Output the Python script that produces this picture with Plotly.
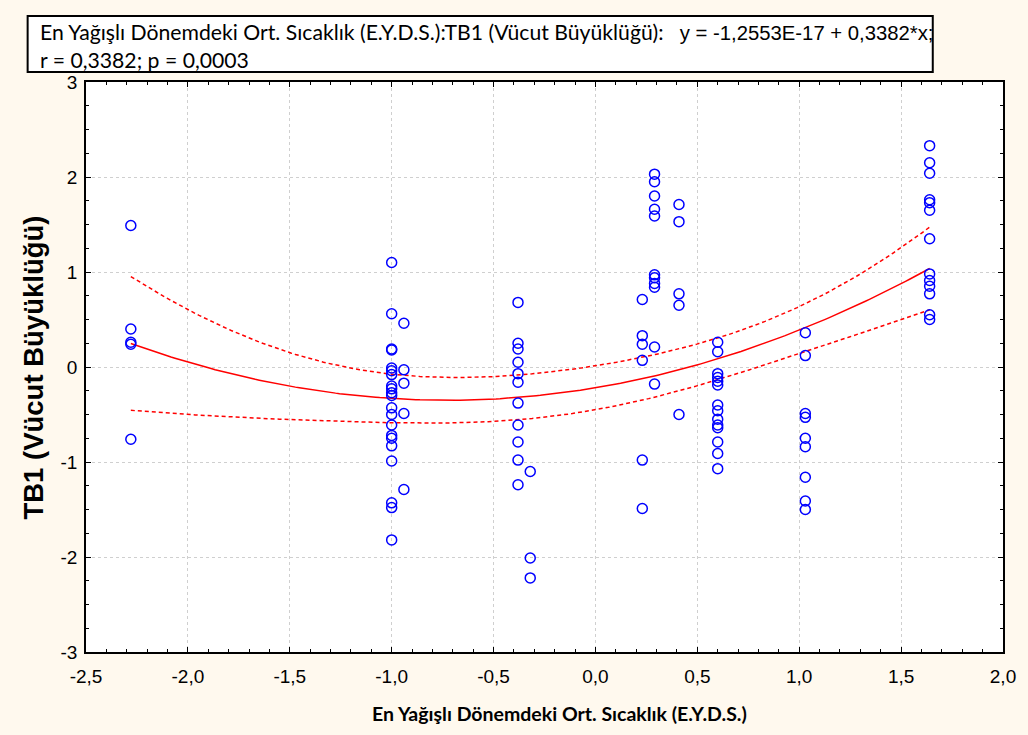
import numpy as np
import plotly.graph_objects as go

# ---- data ----
x_vals = (
    [-2.28] * 5
    + [-1.0] * 21
    + [-0.94] * 5
    + [-0.38] * 11
    + [-0.32] * 3
    + [0.23] * 6
    + [0.29] * 11
    + [0.41] * 5
    + [0.6] * 14
    + [1.03] * 9
    + [1.64] * 13
)
y_vals = (
    [1.49, 0.40, 0.26, 0.24, -0.76]
    + [1.10, 0.56, 0.19, 0.18, -0.01, -0.08, -0.20, -0.23, -0.27, -0.43, -0.50,
       -0.61, -0.72, -0.75, -0.83, -0.99, -1.43, -1.48, -1.82, -0.04, -0.30]
    + [0.46, -0.03, -0.17, -0.49, -1.29]
    + [0.68, 0.25, 0.19, 0.05, -0.07, -0.16, -0.38, -0.61, -0.79, -0.98, -1.24]
    + [-1.10, -2.01, -2.22]
    + [0.71, 0.33, 0.24, 0.07, -0.98, -1.49]
    + [2.03, 1.95, 1.80, 1.66, 1.59, 0.97, 0.94, 0.88, 0.84, 0.21, -0.18]
    + [1.71, 1.53, 0.77, 0.65, -0.50]
    + [0.26, 0.16, -0.07, -0.11, -0.15, -0.19, -0.40, -0.46, -0.55, -0.61, -0.64,
       -0.79, -0.91, -1.07]
    + [0.36, 0.12, -0.49, -0.53, -0.75, -0.84, -1.16, -1.41, -1.50]
    + [2.33, 2.15, 2.04, 1.76, 1.73, 1.65, 1.35, 0.98, 0.91, 0.85, 0.77, 0.55, 0.50]
)

x_tickvals = [-2.5, -2.0, -1.5, -1.0, -0.5, 0.0, 0.5, 1.0, 1.5, 2.0]
x_ticktext = ["-2,5", "-2,0", "-1,5", "-1,0", "-0,5", "0,0", "0,5", "1,0", "1,5", "2,0"]
y_tickvals = [-3, -2, -1, 0, 1, 2, 3]
y_ticktext = ["-3", "-2", "-1", "0", "1", "2", "3"]

title_line1 = "En Yağışlı Dönemdeki Ort. Sıcaklık (E.Y.D.S.):TB1 (Vücut Büyüklüğü):"
title_eq = "y = -1,2553E-17 + 0,3382*x;"
title_line2 = "r = 0,3382; p = 0,0003"
x_title = "En Yağışlı Dönemdeki Ort. Sıcaklık (E.Y.D.S.)"
y_title = "TB1 (Vücut Büyüklüğü)"

# ---- quadratic fit with 95% confidence band ----
xa = np.array(x_vals)
ya = np.array(y_vals)
X = np.column_stack([np.ones_like(xa), xa, xa ** 2])
beta, *_ = np.linalg.lstsq(X, ya, rcond=None)
resid = ya - X @ beta
n = len(xa)
s2 = resid @ resid / (n - 3)
XtX_inv = np.linalg.inv(X.T @ X)
xs = np.linspace(xa.min(), xa.max(), 200)
Xs = np.column_stack([np.ones_like(xs), xs, xs ** 2])
fit = Xs @ beta
se = np.sqrt(s2 * np.einsum("ij,jk,ik->i", Xs, XtX_inv, Xs))
t_crit = 1.984
upper = fit + t_crit * se
lower = fit - t_crit * se

fig = go.Figure()
fig.add_trace(go.Scatter(x=xs, y=upper, mode="lines",
                         line=dict(color="#ff0000", width=1.5, dash="4px,3px"),
                         hoverinfo="skip"))
fig.add_trace(go.Scatter(x=xs, y=lower, mode="lines",
                         line=dict(color="#ff0000", width=1.5, dash="4px,3px"),
                         hoverinfo="skip"))
fig.add_trace(go.Scatter(x=xs, y=fit, mode="lines",
                         line=dict(color="#ff0000", width=1.5),
                         hoverinfo="skip"))
fig.add_trace(go.Scatter(x=x_vals, y=y_vals, mode="markers",
                         marker=dict(symbol="circle-open", size=10,
                                     color="#0000ff", line=dict(width=1.5))))

W, H = 1028, 735
L, R, T, B = 86, 15, 82, 83
pw = W - L - R
ph = H - T - B


def px_x(p):
    return (p - L) / pw


def px_y(p):
    return (H - B - p) / ph


axis_common = dict(
    showline=True, linecolor="black", linewidth=1.5, mirror="ticks",
    ticks="inside", tickcolor="black", ticklen=5, tickwidth=1,
    showgrid=True, gridcolor="#cfcfcf", griddash="dot", gridwidth=1,
    zeroline=False,
    tickfont=dict(family="Liberation Sans, Arial", size=19, color="black"),
)

fig.update_xaxes(range=[-2.5, 2.0], tickvals=x_tickvals, ticktext=x_ticktext,
                 ticklabelstandoff=6,
                 minor=dict(dtick=0.1, ticks="inside", ticklen=3, tickcolor="black",
                            showgrid=False),
                 **axis_common)
fig.update_yaxes(range=[-3, 3], tickvals=y_tickvals, ticktext=y_ticktext,
                 ticklabelstandoff=3,
                 minor=dict(dtick=0.25, ticks="inside", ticklen=3, tickcolor="black",
                            showgrid=False),
                 **axis_common)

# axis titles
fig.add_annotation(xref="paper", yref="paper", x=px_x(565), y=px_y(714),
                   xanchor="center", yanchor="middle", showarrow=False,
                   text="<b>" + x_title + "</b>",
                   font=dict(family="Lato", size=19.5, color="black"))
fig.add_annotation(xref="paper", yref="paper", x=px_x(32), y=px_y(368),
                   xanchor="center", yanchor="middle", showarrow=False, textangle=-90,
                   text="<b>" + y_title + "</b>",
                   font=dict(family="Liberation Sans, Arial", size=27.5, color="black"))

# statistics box
fig.add_shape(type="rect", xref="paper", yref="paper",
              x0=px_x(27), x1=px_x(942), y0=px_y(72), y1=px_y(16),
              line=dict(color="black", width=2), fillcolor="white", layer="above")
fig.add_annotation(
    xref="paper", yref="paper", x=px_x(37), y=px_y(46), xanchor="left", yanchor="middle",
    align="left", showarrow=False,
    text=(title_line1 + "   <span style='font-family:Liberation Sans, Arial;font-size:20.3px'>"
          + title_eq + "</span><br>" + title_line2),
    font=dict(family="Lato", size=21.2, color="black"),
)

fig.update_layout(
    width=W, height=H, margin=dict(l=L, r=R, t=T, b=B),
    paper_bgcolor="#fff9ee", plot_bgcolor="white",
    showlegend=False,
)

fig.write_html("out.html")
